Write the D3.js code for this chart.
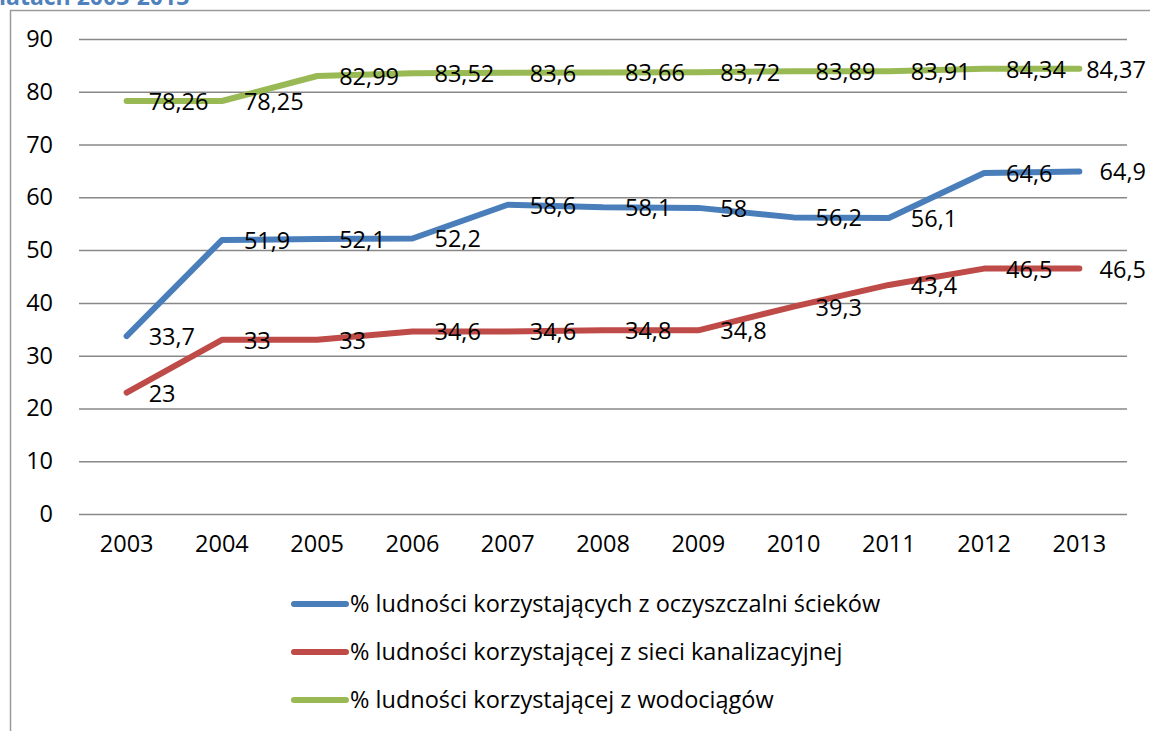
<!DOCTYPE html>
<html>
<head>
<meta charset="utf-8">
<script src="https://cdn.jsdelivr.net/npm/d3@7"></script>
<style>
  html, body { margin: 0; padding: 0; background: #fff; }
  svg { display: block; font-family: "Open Sans", sans-serif; }
</style>
</head>
<body>
<svg id="chart" width="1150" height="731"></svg>
<script>
// Years on the category axis
const years = ["2003", "2004", "2005", "2006", "2007", "2008", "2009", "2010", "2011", "2012", "2013"];

// Share of population served (%)
const sewageTreatment = [33.7, 51.9, 52.1, 52.2, 58.6, 58.1, 58, 56.2, 56.1, 64.6, 64.9];
const sewerNetwork = [23, 33, 33, 34.6, 34.6, 34.8, 34.8, 39.3, 43.4, 46.5, 46.5];
const waterSupply = [78.26, 78.25, 82.99, 83.52, 83.6, 83.66, 83.72, 83.89, 83.91, 84.34, 84.37];

const seriesNames = [
  "% ludności korzystających z oczyszczalni ścieków",
  "% ludności korzystającej z sieci kanalizacyjnej",
  "% ludności korzystającej z wodociągów"
];
const yTicks = [0, 10, 20, 30, 40, 50, 60, 70, 80, 90];
const titleText = "latach 2003-2013";

const series = [
  { name: seriesNames[0], values: sewageTreatment, color: "#4A7EBB" },
  { name: seriesNames[1], values: sewerNetwork, color: "#BE4B48" },
  { name: seriesNames[2], values: waterSupply, color: "#98B954" }
];

const FS = 23.5;
const svg = d3.select("#chart");
const W = 1150;
const plot = { left: 79, right: 1127, top: 39, bottom: 514 };

const x = d3.scaleBand().domain(years).range([plot.left, plot.right]);
const y = d3.scaleLinear().domain([0, 90]).range([plot.bottom, plot.top]);
const cx = d => x(d) + x.bandwidth() / 2;

// Frame edges and heading running off the top
svg.append("text")
  .attr("x", -1).attr("y", 5)
  .attr("font-size", 23).attr("font-weight", "bold")
  .attr("fill", "#4F81BD")
  .text(titleText);

svg.append("path")
  .attr("d", `M10.5,731 V10.5 H${W}`)
  .attr("fill", "none").attr("stroke", "#9a9a9a").attr("stroke-width", 1.5);

// Gridlines and y labels
const yAxis = d3.axisLeft(y).tickValues(yTicks).tickSize(-(plot.right - plot.left)).tickPadding(26).tickFormat(d3.format("d"));
const gy = svg.append("g").attr("transform", `translate(${plot.left},0)`).call(yAxis);
gy.select(".domain").remove();
gy.selectAll(".tick line").attr("stroke", "#888").attr("stroke-width", 1.5);
gy.selectAll(".tick text").attr("font-size", FS).attr("fill", "#000").attr("font-family", "Open Sans, sans-serif");

// Year labels
const xAxis = d3.axisBottom(x).tickSize(0).tickPadding(21);
const gx = svg.append("g").attr("transform", `translate(0,${plot.bottom})`).call(xAxis);
gx.select(".domain").remove();
gx.selectAll(".tick text").attr("font-size", FS).attr("fill", "#000").attr("font-family", "Open Sans, sans-serif");

// Lines
const line = d3.line().x((d, i) => cx(years[i])).y(d => y(d));
series.forEach(s => {
  svg.append("path")
    .datum(s.values)
    .attr("d", line)
    .attr("fill", "none")
    .attr("stroke", s.color)
    .attr("stroke-width", 6)
    .attr("stroke-linejoin", "round")
    .attr("stroke-linecap", "round");
});

// Value labels to the right of each point, kept inside the frame
const fmt = v => String(v).replace(".", ",");
series.forEach(s => {
  s.values.forEach((v, i) => {
    const t = svg.append("text")
      .attr("x", cx(years[i]) + 22)
      .attr("y", y(v))
      .attr("dy", "0.38em")
      .attr("font-size", FS)
      .attr("fill", "#000")
      .text(fmt(v));
    const w = t.node().getComputedTextLength();
    const maxRight = W - 4;
    if (+t.attr("x") + w > maxRight) t.attr("x", maxRight - w);
  });
});

// Legend
const legendY = [604, 652, 700];
series.forEach((s, i) => {
  const g = svg.append("g").attr("transform", `translate(0,${legendY[i]})`);
  g.append("line")
    .attr("x1", 294).attr("x2", 346)
    .attr("stroke", s.color).attr("stroke-width", 6)
    .attr("stroke-linecap", "round");
  g.append("text")
    .attr("x", 350).attr("dy", "0.36em")
    .attr("font-size", FS).attr("fill", "#000")
    .text(s.name);
});
</script>
</body>
</html>
